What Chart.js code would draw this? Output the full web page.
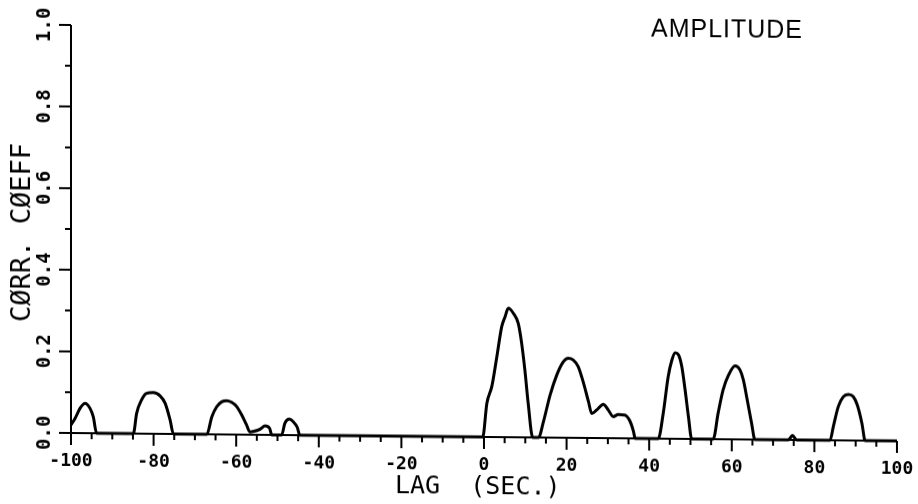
<!DOCTYPE html>
<html>
<head>
<meta charset="utf-8">
<title>Amplitude correlation</title>
<script src="https://cdn.jsdelivr.net/npm/chart.js@4.4.1/dist/chart.umd.min.js"></script>
<style>
  html, body { margin: 0; padding: 0; background: #fff; overflow: hidden; }
  #wrap { width: 918px; height: 504px; position: relative; background: #fff; }
  /* the plotter sheet sits slightly askew */
  #c { display: block; transform: skewY(0.55deg); transform-origin: 71px 433px; }
</style>
</head>
<body>
<div id="wrap"><canvas id="c" width="918" height="504"></canvas></div>
<script>
// Lag (seconds) and correlation coefficient of the amplitude trace
const lag = [
  -100, -99.0, -97.8, -96.6, -95.4, -94.6, -93.8,
  -84.9, -84.1, -82.9, -81.7, -80.1, -78.4, -77.2, -76.0, -75.2,
  -67.1, -65.9, -64.7, -63.5, -62.3, -61.1, -59.9, -58.7, -57.5, -56.7,
  -55.9, -54.2, -53.0, -51.9, -51.4,
  -49.0, -48.2, -47.1, -46.2, -45.2, -44.6,
  -0.3, 0.7, 1.9, 3.1, 4.3, 5.1, 5.9, 7.1, 8.3, 9.1, 9.9, 10.7, 11.8,
  13.2, 14.4, 16.0, 17.6, 19.2, 20.4, 21.6, 22.8, 24.0, 25.3, 26.1, 27.3,
  28.9, 30.1, 31.3, 32.5, 34.1, 35.4, 36.2, 36.6,
  42.2, 43.4, 44.6, 45.5, 46.3, 47.1, 47.9, 48.7, 49.5, 50.3,
  55.5, 56.7, 57.9, 59.2, 60.8, 62.0, 62.8, 63.6, 64.8, 65.6,
  73.7, 74.7, 75.7,
  83.8, 84.6, 85.8, 87.0, 88.2, 89.4, 90.4, 91.5, 92.3,
  100
];
const coeff = [
  0.020, 0.036, 0.061, 0.073, 0.061, 0.040, 0.000,
  0.000, 0.050, 0.083, 0.099, 0.101, 0.093, 0.075, 0.034, 0.000,
  0.000, 0.043, 0.068, 0.080, 0.083, 0.079, 0.069, 0.049, 0.024, 0.007,
  0.008, 0.014, 0.022, 0.016, 0.000,
  0.000, 0.029, 0.039, 0.033, 0.019, 0.000,
  0.000, 0.083, 0.124, 0.196, 0.271, 0.295, 0.316, 0.304, 0.279, 0.232, 0.165, 0.084, 0.000,
  0.000, 0.039, 0.104, 0.153, 0.186, 0.195, 0.191, 0.175, 0.138, 0.089, 0.060, 0.069,
  0.083, 0.069, 0.053, 0.058, 0.057, 0.041, 0.017, 0.000,
  0.000, 0.062, 0.152, 0.193, 0.211, 0.206, 0.177, 0.120, 0.055, 0.000,
  0.000, 0.064, 0.121, 0.157, 0.180, 0.170, 0.146, 0.105, 0.040, 0.000,
  0.000, 0.011, 0.000,
  0.000, 0.034, 0.083, 0.107, 0.113, 0.108, 0.087, 0.043, 0.000,
  0.000
];

// Axis ticks and labels
const xTicks = [-100, -80, -60, -40, -20, 0, 20, 40, 60, 80, 100];
const xTickLabels = ['-100', '-80', '-60', '-40', '-20', '0', '20', '40', '60', '80', '100'];
const xMinorStep = 5;
const yTicks = [0, 0.2, 0.4, 0.6, 0.8, 1.0];
const yTickLabels = ['0.0', '0.2', '0.4', '0.6', '0.8', '1.0'];
const yMinorStep = 0.1;
const xTitle = 'LAG  (SEC.)';
const yTitle = 'CØRR. CØEFF';
const panelTitle = 'AMPLITUDE';

const INK = '#000';
const MONO = '"DejaVu Sans Mono", "Liberation Mono", monospace';

// Pen-plotter style frame: left and bottom axes, outward ticks, rotated y labels
const plotterAxes = {
  id: 'plotterAxes',
  afterDraw(chart) {
    const { ctx, scales: { x, y } } = chart;
    const left = x.getPixelForValue(x.min);
    const right = x.getPixelForValue(x.max);
    const bottom = y.getPixelForValue(y.min);
    const top = y.getPixelForValue(y.max);

    ctx.save();
    ctx.strokeStyle = INK;
    ctx.fillStyle = INK;
    ctx.lineWidth = 2;
    ctx.lineCap = 'butt';

    ctx.beginPath();
    ctx.moveTo(left, top);
    ctx.lineTo(left, bottom);
    ctx.lineTo(right, bottom);
    ctx.stroke();

    // x ticks (down from the axis)
    ctx.beginPath();
    const nx = Math.round((x.max - x.min) / xMinorStep);
    for (let i = 0; i <= nx; i++) {
      const v = x.min + i * xMinorStep;
      const px = x.getPixelForValue(v);
      const major = xTicks.some(t => Math.abs(t - v) < 1e-9);
      ctx.moveTo(px, bottom);
      ctx.lineTo(px, bottom + (major ? 12 : 6));
    }
    // y ticks (left of the axis)
    const ny = Math.round((y.max - y.min) / yMinorStep);
    for (let i = 0; i <= ny; i++) {
      const v = y.min + i * yMinorStep;
      const py = y.getPixelForValue(v);
      const major = yTicks.some(t => Math.abs(t - v) < 1e-9);
      ctx.moveTo(left, py);
      ctx.lineTo(left - (major ? 12 : 6), py);
    }
    ctx.stroke();

    // x tick labels
    ctx.font = 'bold 18px ' + MONO;
    ctx.textAlign = 'center';
    ctx.textBaseline = 'middle';
    xTicks.forEach((t, i) => {
      ctx.fillText(xTickLabels[i], x.getPixelForValue(t), bottom + 28);
    });

    // y tick labels, reading upward
    ctx.font = 'bold 19px ' + MONO;
    yTicks.forEach((t, i) => {
      ctx.save();
      ctx.translate(left - 26, y.getPixelForValue(t));
      ctx.rotate(-Math.PI / 2);
      ctx.fillText(yTickLabels[i], 0, 0);
      ctx.restore();
    });

    // axis titles
    ctx.font = '25px ' + MONO;
    ctx.textAlign = 'left';
    ctx.fillText(xTitle, 395, bottom + 50);

    ctx.save();
    ctx.font = '27px ' + MONO;
    ctx.textAlign = 'center';
    ctx.translate(23, 233);
    ctx.rotate(-Math.PI / 2);
    ctx.fillText(yTitle, 0, 0);
    ctx.restore();

    // panel name
    ctx.font = '25px "Liberation Sans", Arial, sans-serif';
    ctx.textAlign = 'center';
    ctx.letterSpacing = '1px';
    ctx.fillText(panelTitle, 727, 24);
    ctx.restore();
  }
};

new Chart(document.getElementById('c'), {
  type: 'line',
  data: {
    datasets: [{
      data: lag.map((l, i) => ({ x: l, y: coeff[i] })),
      borderColor: INK,
      borderWidth: 3,
      pointRadius: 0,
      cubicInterpolationMode: 'monotone',
      fill: false,
      clip: false
    }]
  },
  options: {
    responsive: false,
    devicePixelRatio: 1,
    animation: false,
    layout: { padding: { left: 71, right: 21, top: 25, bottom: 71 } },
    scales: {
      x: { type: 'linear', min: -100, max: 100, display: false },
      y: { type: 'linear', min: 0, max: 1, display: false }
    },
    plugins: { legend: { display: false }, tooltip: { enabled: false } }
  },
  plugins: [plotterAxes]
});
</script>
</body>
</html>
